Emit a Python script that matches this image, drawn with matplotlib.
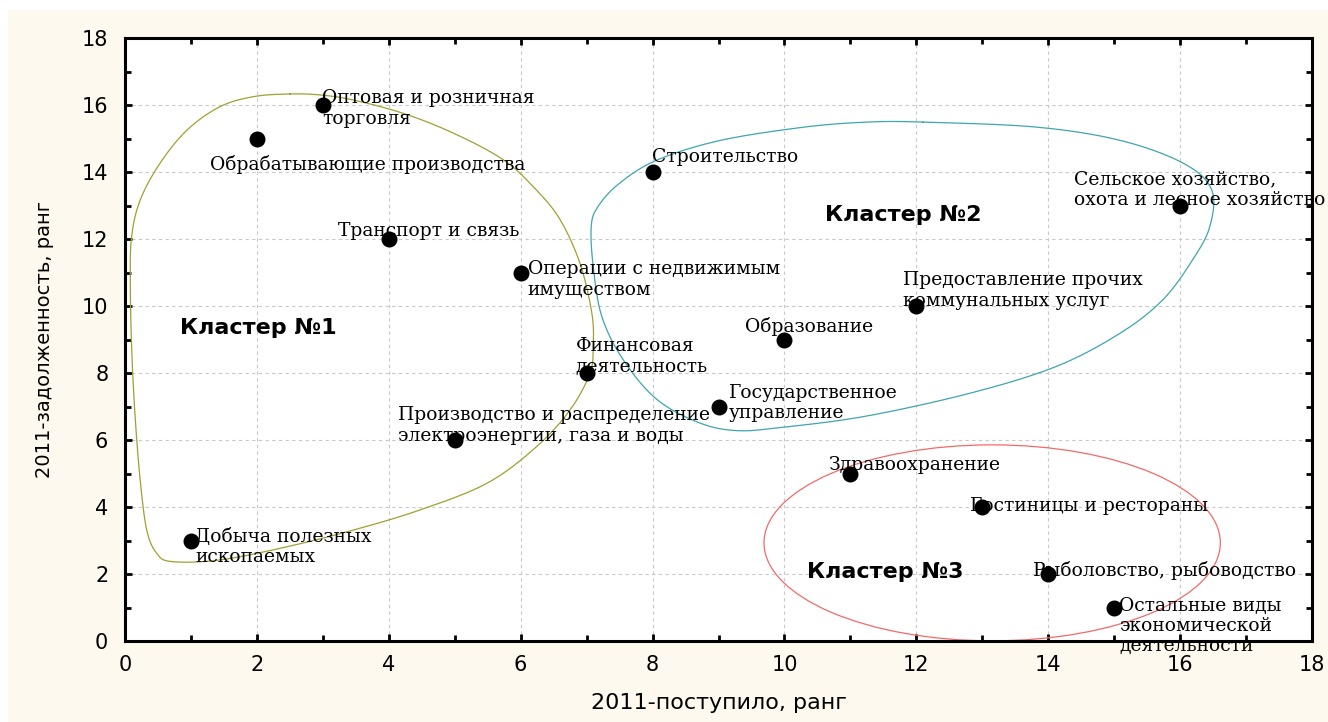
import numpy as np
import matplotlib
matplotlib.use("Agg")
import matplotlib.pyplot as plt
from matplotlib.patches import Rectangle, Ellipse

# ranks (2011): x = поступило, y = задолженность
x_rank = [1, 2, 3, 4, 5, 6, 7, 8, 9, 10, 11, 12, 13, 14, 15, 16]
y_rank = [3, 15, 16, 12, 6, 11, 8, 14, 7, 9, 5, 10, 4, 2, 1, 13]
names = [
    "Добыча полезных\nископаемых",
    "Обрабатывающие производства",
    "Оптовая и розничная\nторговля",
    "Транспорт и связь",
    "Производство и распределение\nэлектроэнергии, газа и воды",
    "Операции с недвижимым\nимуществом",
    "Финансовая\nдеятельность",
    "Строительство",
    "Государственное\nуправление",
    "Образование",
    "Здравоохранение",
    "Предоставление прочих\nкоммунальных услуг",
    "Гостиницы и рестораны",
    "Рыболовство, рыбоводство",
    "Остальные виды\nэкономической\nдеятельности",
    "Сельское хозяйство,\nохота и лесное хозяйство",
]
# label offsets from the point in pixels: (left edge, centre of first line)
label_dx = [4, -47, -1, -51, -57, 7, -11, -1, 10, -39, -21, -13, -12, -15, 5, -106]
label_dy = [3, -27, 6, 7, 24, 2, 26, 14, 13, 13, 8, 25, 0, 3, 1, 25]

# cluster outlines
c1_x = [2.50, 1.95, 1.44, 0.94, 0.53, 0.23, 0.10, 0.08, 0.10, 0.15, 0.23, 0.33, 0.48, 0.71,
        1.44, 2.45, 3.46, 4.47, 5.49, 6.24, 6.75, 7.05, 7.10, 7.08, 6.90, 6.60, 6.24, 5.74,
        4.98, 4.22, 3.46, 2.96]
c1_y = [16.33, 16.25, 15.95, 15.25, 14.26, 13.16, 12.07, 10.78, 8.79, 6.80, 4.81, 3.31, 2.62, 2.37,
        2.42, 2.81, 3.31, 3.91, 4.71, 5.80, 6.90, 7.99, 8.79, 9.78, 11.27, 12.57, 13.46, 14.36,
        15.16, 15.75, 16.15, 16.30]
c2_x = [12.10, 13.82, 15.10, 16.06, 16.48, 16.45, 16.19, 15.74, 15.10, 14.14, 12.86, 11.26,
        9.98, 9.28, 8.70, 8.06, 7.55, 7.23, 7.10, 7.07, 7.17, 7.49, 8.06, 9.02, 10.30, 11.26]
c2_y = [15.49, 15.34, 14.94, 14.25, 13.46, 12.37, 11.38, 10.19, 9.20, 8.21, 7.42, 6.72,
        6.38, 6.28, 6.52, 7.22, 8.41, 9.69, 11.18, 12.37, 12.96, 13.65, 14.35, 14.94, 15.34, 15.49]
c3_center = (13.15, 2.93)
c3_width, c3_height = 6.92, 5.85

clusters = ["Кластер №1", "Кластер №2", "Кластер №3"]
cl_x = [2.02, 11.8, 11.53]
cl_y = [9.34, 12.72, 2.06]


def closed_spline(px, py, n=20):
    # Catmull-Rom through closed list of vertices
    p = np.column_stack([px, py])
    m = len(p)
    out = []
    t = np.linspace(0, 1, n, endpoint=False)[:, None]
    for i in range(m):
        p0, p1, p2, p3 = p[i - 1], p[i], p[(i + 1) % m], p[(i + 2) % m]
        seg = 0.5 * ((2 * p1) + (-p0 + p2) * t + (2 * p0 - 5 * p1 + 4 * p2 - p3) * t ** 2
                     + (-p0 + 3 * p1 - 3 * p2 + p3) * t ** 3)
        out.append(seg)
    out = np.vstack(out + [out[0][:1]])
    return out[:, 0], out[:, 1]


fig = plt.figure(figsize=(13.28, 7.22), dpi=100, facecolor="white")
fig.patches.append(Rectangle((8 / 1328, 0), 1, 1 - 10 / 722, transform=fig.transFigure,
                             facecolor="#fdf9ee", edgecolor="none", zorder=-10))
ax = fig.add_axes([125 / 1328, 1 - 641 / 722, 1187 / 1328, 603 / 722])
ax.set_zorder(1)
ax.set_facecolor("white")

ax.set_xlim(0, 18)
ax.set_ylim(0, 18)
ax.set_xticks(np.arange(0, 19, 2))
ax.set_yticks(np.arange(0, 19, 2))
ax.set_xticks(np.arange(1, 18, 2), minor=True)
ax.set_yticks(np.arange(1, 18, 2), minor=True)
ax.grid(True, which="major", color="#c8c8c8", linestyle=(0, (3, 3)), linewidth=0.8)
ax.set_axisbelow(True)
ax.tick_params(which="both", direction="in", top=True, right=True, width=2, color="black")
ax.tick_params(which="major", length=5, labelsize=15)
ax.tick_params(which="minor", length=4)
ax.tick_params(axis="x", pad=10)
ax.tick_params(axis="y", pad=12)
for s in ax.spines.values():
    s.set_linewidth(2.2)

sx, sy = closed_spline(c1_x, c1_y)
ax.plot(sx, sy, color="#a0a032", linewidth=0.9, zorder=2)
sx, sy = closed_spline(c2_x, c2_y)
ax.plot(sx, sy, color="#3ea6ac", linewidth=0.9, zorder=2)
ax.add_patch(Ellipse(c3_center, c3_width, c3_height, fill=False, edgecolor="#f26a6a",
                     linewidth=0.9, zorder=2))

for i, name in enumerate(names):
    ax.annotate(name, (x_rank[i], y_rank[i]), xytext=(label_dx[i], label_dy[i] + 10),
                textcoords="offset pixels", ha="left", va="top", fontsize=13.5,
                family="DejaVu Serif", linespacing=1.15 if i == 14 else 1.2, zorder=3)

ax.scatter(x_rank, y_rank, s=110, color="black", zorder=4, clip_on=False)

for i, c in enumerate(clusters):
    ax.text(cl_x[i], cl_y[i], c, ha="center", va="center", fontsize=16,
            fontweight="bold", family="DejaVu Sans", zorder=3)

ax.set_xlabel("2011-поступило, ранг", fontsize=16)
ax.set_ylabel("2011-задолженность, ранг", fontsize=14)
ax.xaxis.set_label_coords(0.5, -0.103)
ax.xaxis.label.set_va("center")
ax.yaxis.set_label_coords(-0.068, 0.5)
ax.yaxis.label.set_va("center")

fig.savefig("out.png", dpi=100, facecolor=fig.get_facecolor())
